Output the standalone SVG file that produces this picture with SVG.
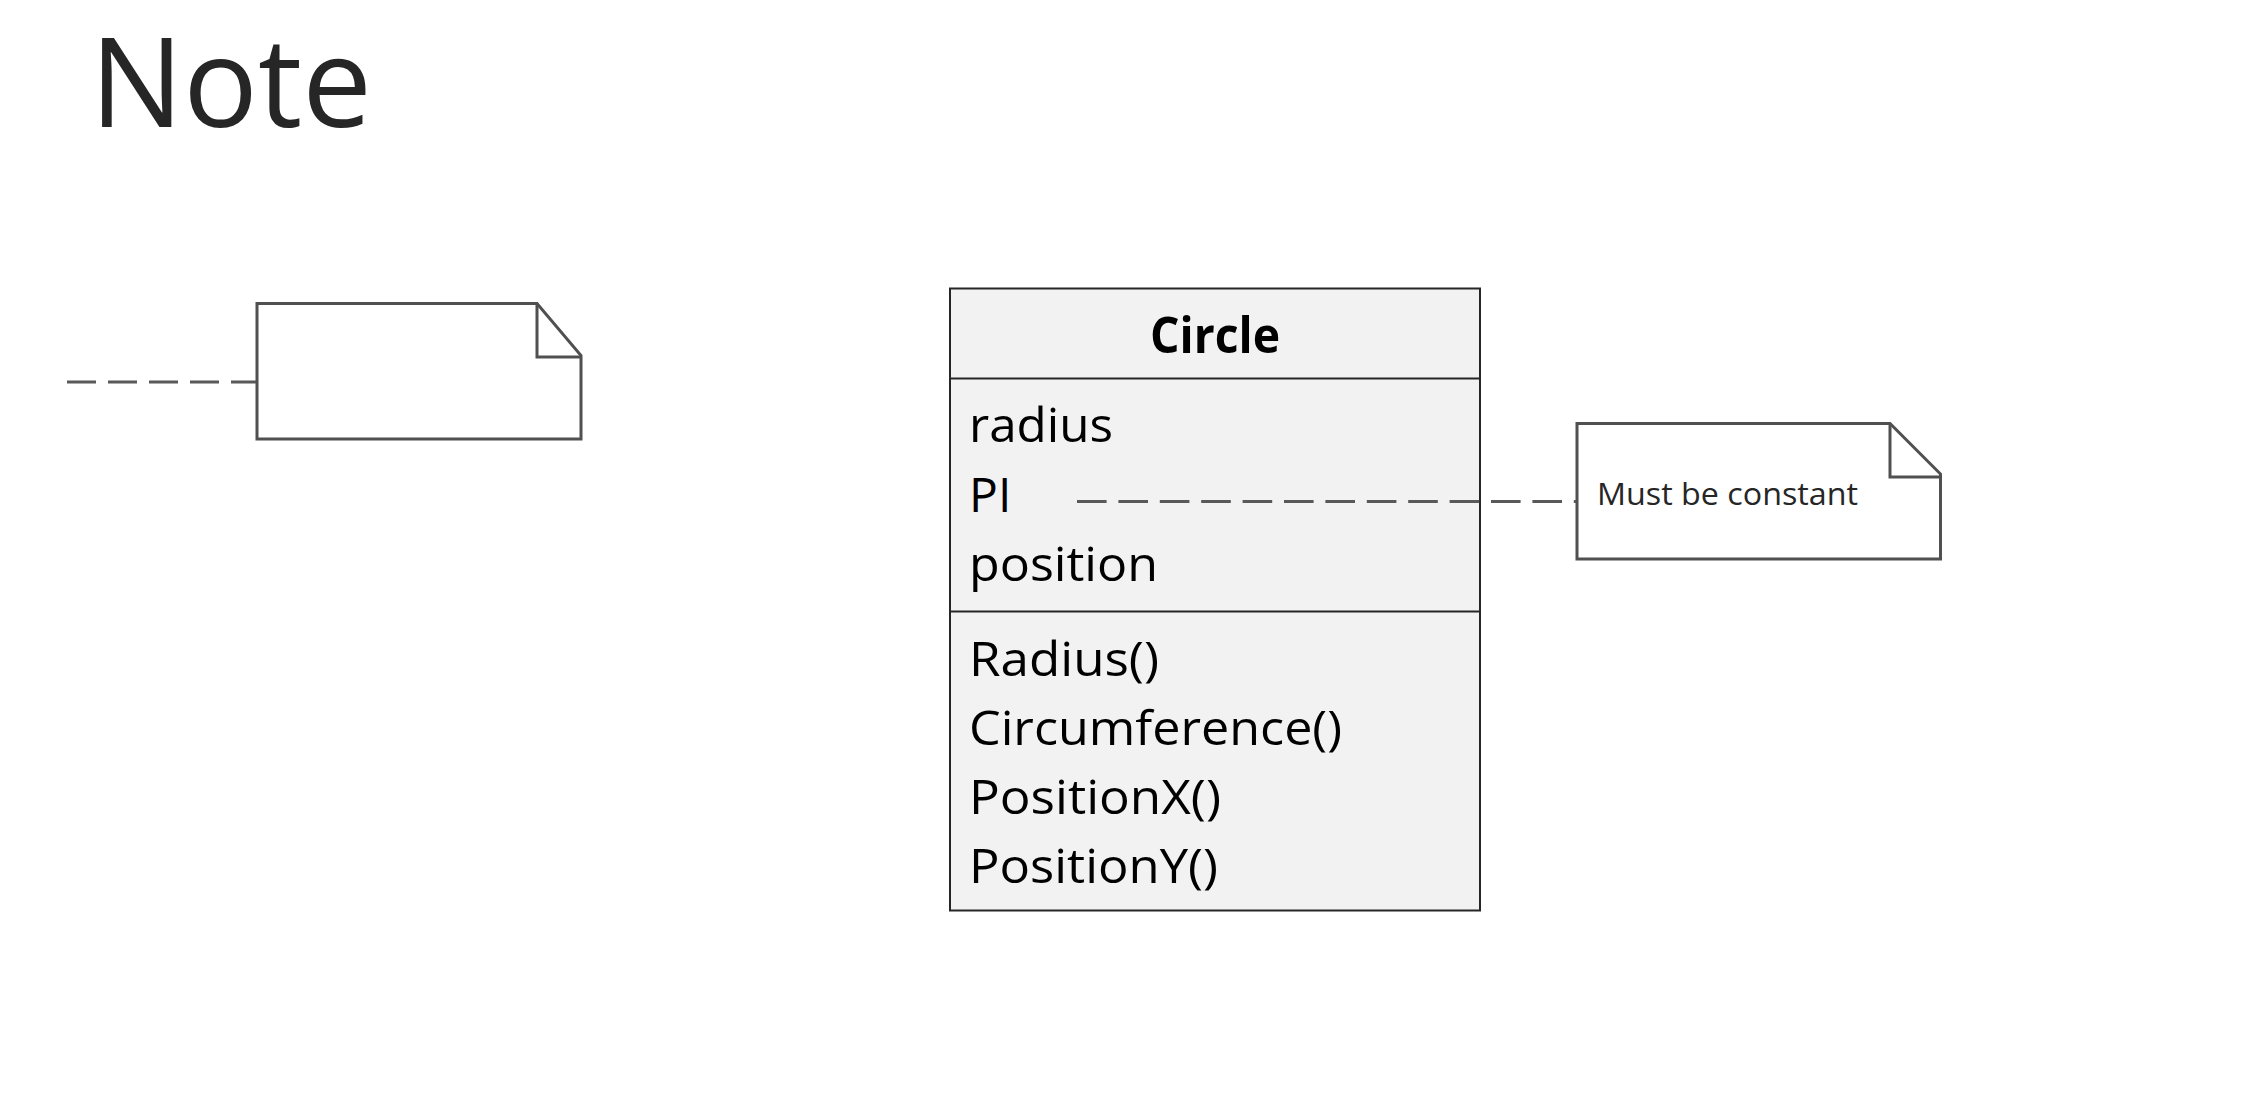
<svg xmlns="http://www.w3.org/2000/svg" width="2261" height="1098" viewBox="0 0 2261 1098">
  <style>
    .t { font-family: "Open Sans", "Noto Sans", "Liberation Sans", sans-serif; }
    .title { font-size: 124px; fill: #262626; }
    .cls { fill: #f2f2f2; stroke: #262626; stroke-width: 2; }
    .div { stroke: #262626; stroke-width: 2; fill: none; }
    .member { font-size: 48px; fill: #000; }
    .cname { font-size: 50px; font-weight: bold; fill: #000; }
    .note { fill: #ffffff; stroke: #505050; stroke-width: 3; stroke-linejoin: miter; }
    .fold { fill: none; stroke: #505050; stroke-width: 3; }
    .ntext { font-size: 31px; fill: #262626; }
    .conn { stroke: #595959; stroke-width: 3; fill: none; }
  </style>
  <rect width="2261" height="1098" fill="#ffffff"/>
  <text class="t title" x="90" y="127">Note</text>

  <g id="note-empty">
    <path class="note" d="M257 303.5 H537 L581 355.5 V439 H257 Z"/>
    <path class="fold" d="M537 303.5 V357 H581"/>
  </g>

  <g id="class-circle">
    <rect class="cls" x="950" y="288.5" width="530" height="622"/>
    <line class="div" x1="950" y1="378.5" x2="1480" y2="378.5"/>
    <line class="div" x1="950" y1="611.5" x2="1480" y2="611.5"/>
    <text class="t cname" x="1215" y="353" text-anchor="middle" textLength="130" lengthAdjust="spacingAndGlyphs">Circle</text>
    <text class="t member" x="969" y="441.5" textLength="144" lengthAdjust="spacingAndGlyphs">radius</text>
    <text class="t member" x="969" y="511.5">PI</text>
    <text class="t member" x="969" y="581" textLength="189" lengthAdjust="spacingAndGlyphs">position</text>
    <text class="t member" x="969" y="676" textLength="190" lengthAdjust="spacingAndGlyphs">Radius()</text>
    <text class="t member" x="969" y="745" textLength="373" lengthAdjust="spacingAndGlyphs">Circumference()</text>
    <text class="t member" x="969" y="813.5" textLength="252" lengthAdjust="spacingAndGlyphs">PositionX()</text>
    <text class="t member" x="969" y="883" textLength="249" lengthAdjust="spacingAndGlyphs">PositionY()</text>
  </g>

  <g id="note-constant">
    <path class="note" d="M1577 423.5 H1890 L1940.5 474 V559 H1577 Z"/>
    <path class="fold" d="M1890 423.5 V477 H1940.5"/>
    <text class="t ntext" x="1597" y="505" textLength="261" lengthAdjust="spacingAndGlyphs">Must be constant</text>
  </g>

  <g id="connectors">
    <line class="conn" x1="67" y1="382" x2="256" y2="382" stroke-dasharray="29 12"/>
    <line class="conn" x1="1077" y1="501.5" x2="1576" y2="501.5" stroke-dasharray="29.6 11.8"/>
  </g>
</svg>
